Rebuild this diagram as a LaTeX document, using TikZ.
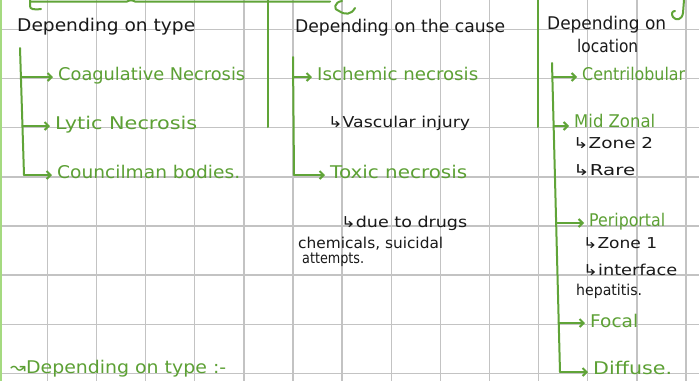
\documentclass[tikz,border=0pt]{standalone}
\usepackage{fontspec}
\setmainfont{DejaVu Sans}
\usetikzlibrary{arrows.meta}
\definecolor{gr}{RGB}{96,164,56}
\definecolor{gtext}{RGB}{92,160,52}
\definecolor{lgr}{RGB}{165,218,128}
\definecolor{ink}{RGB}{25,25,25}
\definecolor{gridc}{RGB}{195,195,195}
\newcommand{\tw}[2]{\resizebox{#1pt}{\height}{#2}}
\newcommand{\bigfs}{\fontsize{17.5pt}{20pt}\selectfont}
\newcommand{\smallfs}{\fontsize{15pt}{18pt}\selectfont}
\tikzset{
  gline/.style={draw=gr, line width=2pt, line cap=round, line join=round},
  garrow/.style={gline, shorten >=5pt, -{Straight Barb[length=4pt,width=8pt]}},
  lbl/.style={anchor=base west, inner sep=0pt},
  glbl/.style={lbl, text=gtext, font=\bigfs},
  blbl/.style={lbl, text=ink, font=\bigfs},
  slbl/.style={lbl, text=ink, font=\smallfs},
  gridline/.style={draw=gridc, line width=1.4pt}
}
\begin{document}
\begin{tikzpicture}[x=1pt,y=-1pt]
\useasboundingbox (0,0) rectangle (699,381);
\fill[white] (0,0) rectangle (699,381);
% grid
\foreach \k in {0,...,13} \draw[gridline] ({47.3+49.13*\k},0) -- ({47.3+49.13*\k},381);
\foreach \k in {0,...,7} \draw[gridline] (0,{29.4+49.14*\k}) -- (699,{29.4+49.14*\k});
% page border and frame lines
\draw[draw=lgr, line width=1.6pt] (0.8,0) -- (0.8,381);
\draw[gline] (30,1.5) -- (127,1.5) .. controls (129,0) and (133,0) .. (135,1.5) -- (330,1.5);
\draw[gline] (30,0) -- (30,6) .. controls (30,9) and (33,10) .. (41,9);
\draw[gline] (342,1) .. controls (334,2) and (333,10) .. (339,11) .. controls (345,15) and (351,15) .. (355,8);
\draw[gline] (684,0) -- (683,13) .. controls (682,20) and (676,21) .. (673,17) .. controls (671,14) and (672,11) .. (675,11);
\draw[gline] (268,0) -- (268,127);
\draw[gline] (538,0) -- (538,127);

% column 1
\node[blbl] (dep1) at (17,31) {\tw{178}{Depending on type}};
\node[glbl] (coag) at (58,80) {\tw{187}{Coagulative Necrosis}};
\node[glbl] (lytic) at (55,129) {\tw{142}{Lytic Necrosis}};
\node[glbl] (coun) at (57,178) {\tw{183}{Councilman bodies.}};
\coordinate (s1t) at (20,48);
\coordinate (s1a) at (21,77);
\coordinate (s1c) at (22.5,126);
\coordinate (s1b) at (24,175);
\draw[gline] (s1t) -- (s1b);
\draw[garrow] (s1a) -- (s1a -| coag.west);
\draw[garrow] (s1c) -- (s1c -| lytic.west);
\draw[garrow] (s1b) -- (s1b -| coun.west);
\node[glbl] (bot) at (10,373) {\tw{216}{↝Depending on type :-}};

% column 2
\node[blbl] (dep2) at (295,32) {\tw{210}{Depending on the cause}};
\node[glbl] (isch) at (317,80) {\tw{161}{Ischemic necrosis}};
\node[slbl] (vasc) at (328,127) {\tw{142}{↳Vascular injury}};
\node[glbl] (toxic) at (330,178) {\tw{137}{Toxic necrosis}};
\node[slbl] (due) at (341,227) {\tw{126}{↳due to drugs}};
\node[slbl] (chem) at (298,248) {\tw{145}{chemicals, suicidal}};
\node[slbl] (att) at (302,263) {\tw{62}{attempts.}};
\coordinate (s2t) at (293,57);
\coordinate (s2a) at (293,77);
\coordinate (s2b) at (294,175);
\draw[gline] (s2t) -- (s2b);
\draw[garrow] (s2a) -- (s2a -| isch.west);
\draw[garrow] (s2b) -- (s2b -| toxic.west);

% column 3
\node[blbl] (dep3) at (547,29) {\tw{119}{Depending on}};
\node[blbl] (loc) at (577,52) {\tw{61}{location}};
\node[glbl] (centri) at (582,80) {\tw{103}{Centrilobular}};
\node[glbl] (mid) at (574,127) {\tw{81}{Mid Zonal}};
\node[slbl] (zone2) at (573,148) {\tw{80}{↳Zone 2}};
\node[slbl] (rare) at (573,175) {\tw{62}{↳Rare}};
\node[glbl] (peri) at (589,226) {\tw{76}{Periportal}};
\node[slbl] (zone1) at (583,248) {\tw{74}{↳Zone 1}};
\node[slbl] (inter) at (583,275) {\tw{94}{↳interface}};
\node[slbl] (hep) at (576,295) {\tw{66}{hepatitis.}};
\node[glbl] (focal) at (590,327) {\tw{48}{Focal}};
\node[glbl] (diff) at (593,374) {\tw{79}{Diffuse.}};
\coordinate (s3t) at (552,63);
\coordinate (s3a) at (552.3,77);
\coordinate (s3b) at (553.5,126);
\coordinate (s3c) at (556,223);
\coordinate (s3d) at (558.7,323);
\coordinate (s3e) at (560,372);
\draw[gline] (s3t) -- (s3e);
\draw[garrow] (s3a) -- (s3a -| centri.west);
\draw[garrow] (s3b) -- (s3b -| mid.west);
\draw[garrow] (s3c) -- (s3c -| peri.west);
\draw[garrow] (s3d) -- (s3d -| focal.west);
\draw[garrow] (s3e) -- (s3e -| diff.west);
\end{tikzpicture}
\end{document}
